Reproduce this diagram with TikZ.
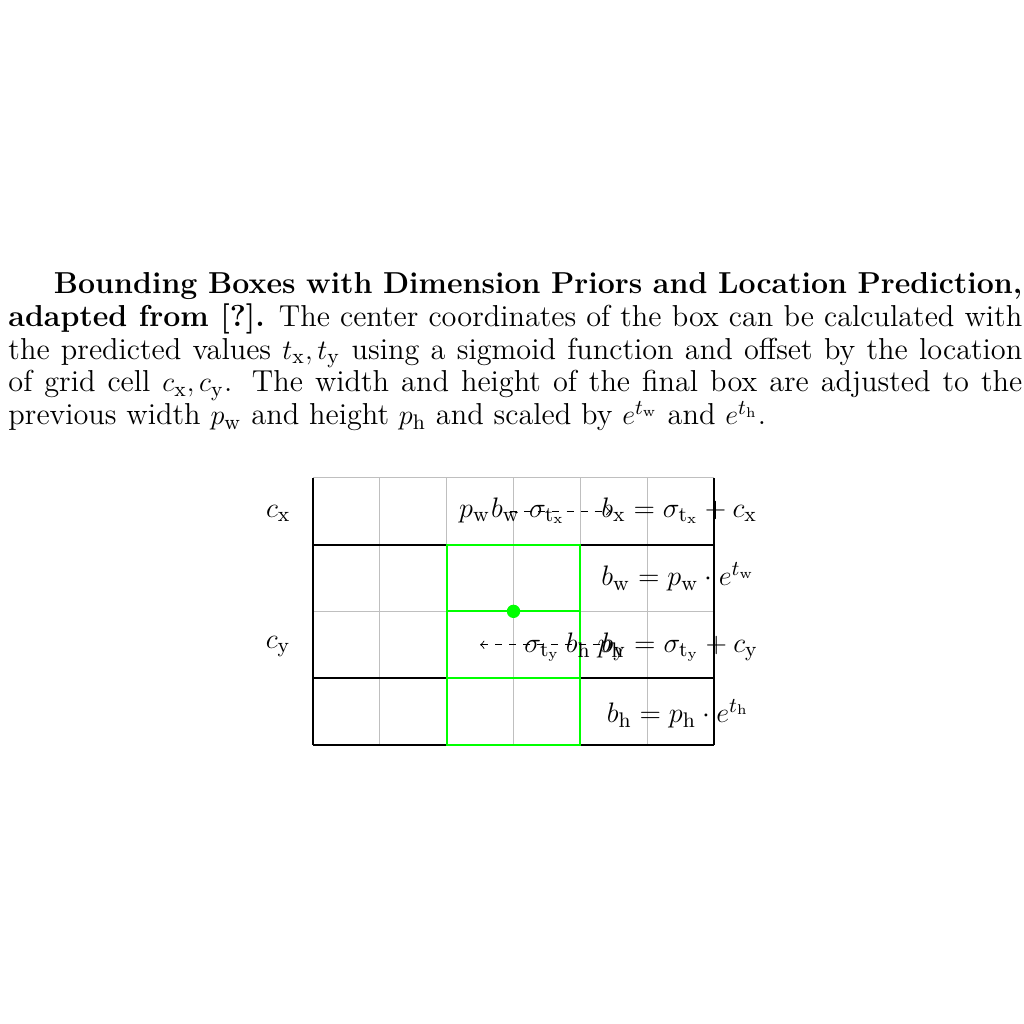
\documentclass[tikz,border=0pt]{standalone}
\tikzset{
  captiontext/.style={inner sep=0pt, text width=15.17cm, align=justify, font=\fontsize{12.9}{14}\selectfont},
  lbl/.style={inner sep=0pt, anchor=base, font=\fontsize{12.9}{15}\selectfont},
  gridline/.style={draw=black!25, line width=0.4pt},
  hline/.style={draw=black, line width=0.85pt},
  vline/.style={draw=black, line width=1.25pt},
  greenline/.style={draw=green, line width=0.85pt},
  dasharrow/.style={dashed, ->, line width=0.4pt}
}
\begin{document}
\begin{tikzpicture}
\useasboundingbox (-4.684,-4.175) rectangle (10.638,11.148);
\node[captiontext, anchor=north west] (cap) at (-4.564,7.08) {\hspace*{0.68cm}\textbf{Bounding Boxes with Dimension Priors and Location Prediction, adapted from [?].} The center coordinates of the box can be calculated with the predicted values $t_\mathrm{x}, t_\mathrm{y}$ using a sigmoid function and offset by the location of grid cell $c_\mathrm{x}, c_\mathrm{y}$. The width and height of the final box are adjusted to the previous width $p_\mathrm{w}$ and height $p_\mathrm{h}$ and scaled by $e^{t_\mathrm{w}}$ and $e^{t_\mathrm{h}}$.};
% grid
\draw[gridline] (0,0) grid (6,4);
\draw[hline] (0,0) -- (6,0) (0,1) -- (6,1) (0,3) -- (6,3);
\draw[vline] (0,0) -- (0,4) (6,0) -- (6,4);
\draw[greenline] (2,0) rectangle (4,3) (2,1) -- (4,1) (2,2) -- (4,2);
\fill[green] (3,2) circle (0.1);
% left labels
\node[lbl] (cx) at (-0.52,3.41) {$c_\mathrm{x}$};
\node[lbl] (cy) at (-0.52,1.45) {$c_\mathrm{y}$};
% row 1
\node[lbl] (pw) at (2.42,3.41) {$p_\mathrm{w}$};
\node[lbl] (bw) at (2.88,3.41) {$b_\mathrm{w}$};
\node[lbl] (sx) at (3.5,3.41) {$\sigma_{\mathrm{t}_\mathrm{x}}$};
\node[lbl] (bx) at (5.48,3.41) {$b_\mathrm{x} = \sigma_{\mathrm{t}_\mathrm{x}} + c_\mathrm{x}$};
\coordinate (a1s) at (2.95,3.5);
\coordinate (a1e) at (4.45,3.5);
\draw[dasharrow] (a1s) -- (a1e);
% row 2
\node[lbl] (bweq) at (5.46,2.38) {$b_\mathrm{w} = p_\mathrm{w} \cdot e^{t_\mathrm{w}}$};
% row 3
\node[lbl] (sy) at (3.43,1.39) {$\sigma_{\mathrm{t}_\mathrm{y}}$};
\node[lbl] (bh) at (3.97,1.39) {$b_\mathrm{h}$};
\node[lbl] (ph) at (4.46,1.39) {$p_\mathrm{h}$};
\node[lbl] (by) at (5.49,1.39) {$b_\mathrm{y} = \sigma_{\mathrm{t}_\mathrm{y}} + c_\mathrm{y}$};
\coordinate (a3s) at (4.3,1.5);
\coordinate (a3e) at (2.5,1.5);
\draw[dasharrow] (a3s) -- (a3e);
% row 4
\node[lbl] (bheq) at (5.46,0.34) {$b_\mathrm{h} = p_\mathrm{h} \cdot e^{t_\mathrm{h}}$};
\end{tikzpicture}
\end{document}
